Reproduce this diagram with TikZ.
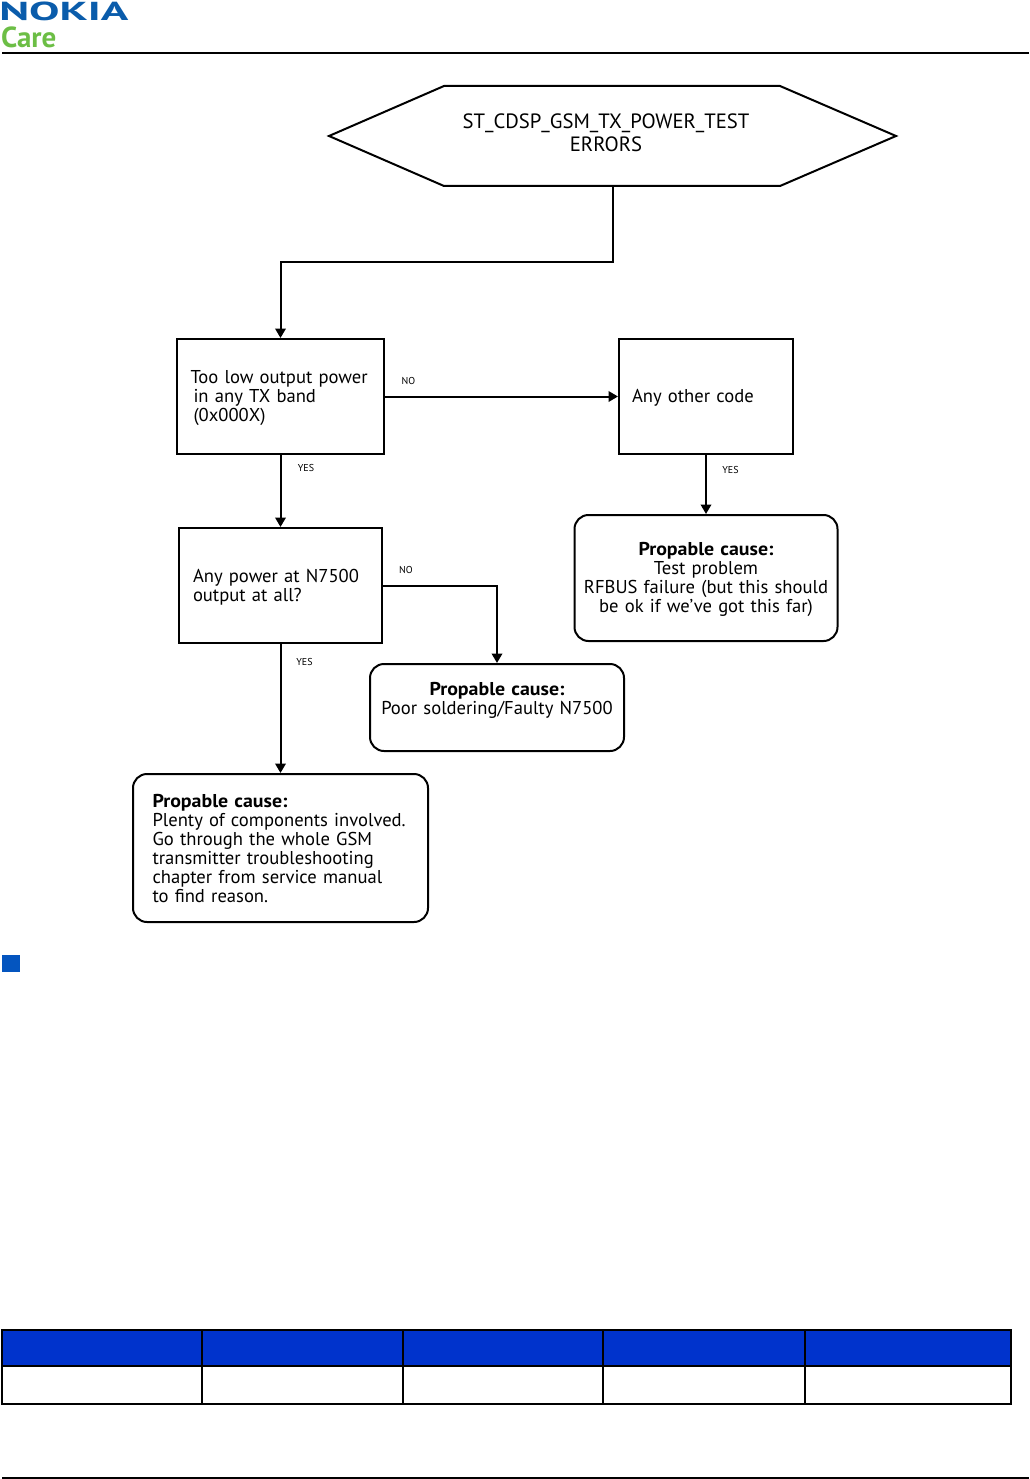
\documentclass[tikz,border=0pt]{standalone}
\usepackage{fontspec}
\setmainfont[WordSpace=0.8]{PT Sans}
\newfontface\widebold[FakeStretch=1.07,WordSpace=0.8]{PT Sans Bold}
\usetikzlibrary{arrows.meta}
\definecolor{nokiablue}{HTML}{0A5CAB}
\definecolor{carelime}{HTML}{6CBE45}
\definecolor{headblue}{HTML}{0033CC}
\definecolor{bulletblue}{HTML}{0455BF}
\newcommand{\firstline}[1]{\rule{0pt}{#1pt}}
\tikzset{
  x=1pt,y=-1pt,
  boxtext/.style={font=\fontsize{18.6}{19}\selectfont},
  sqbox/.style={draw=black,line width=2pt,boxtext,inner sep=0pt},
  rbox/.style={sqbox,rounded corners=14pt},
  conn/.style={draw=black,line width=2pt,-{Triangle[length=9.5pt,width=10.5pt]}},
  tag/.style={font=\fontsize{10}{11}\selectfont,inner sep=0pt},
  rule/.style={draw=black,line width=2pt},
  tabline/.style={draw=black,line width=2pt},
}
\begin{document}
\begin{tikzpicture}
\useasboundingbox (0,0) rectangle (1029,1479);
% header and footer
\node[anchor=west,inner sep=0pt,text=nokiablue,font=\fontsize{26}{26}\bfseries\selectfont,xscale=1.75] (logo) at (-1,11) {NOKIA};
\node[anchor=west,inner sep=0pt,text=carelime,font=\fontsize{29}{29}\bfseries\selectfont] (care) at (1,37) {Care};
\draw[rule] (2,53) -- (1029,53);
\draw[rule] (2,1478) -- (1029,1478);
% hexagon
\draw[line width=2pt,line join=miter] (329,136) -- (444,86) -- (780,86) -- (896,136) -- (780,186) -- (444,186) -- cycle;
\node[inner sep=0pt,align=center,font=\fontsize{20.7}{23}\selectfont] (hex) at (606,132.5) {ST\_CDSP\_GSM\_TX\_POWER\_TEST\\ERRORS};
\coordinate (hexb) at (613,186);
\coordinate (bend1) at (613,262);
\coordinate (bend2) at (280.5,262);
% boxes
\node[sqbox,minimum width=207pt,minimum height=115pt,text width=180pt,align=left] (low) at (280.5,396.5) {\firstline{16}\mbox{Too low output power}\\\hspace*{3pt}in any TX band\\\hspace*{3pt}(0x000X)};
\node[sqbox,minimum width=174pt,minimum height=115pt,text width=148pt,align=left] (other) at (706,396.5) {\firstline{16}Any other code};
\node[sqbox,minimum width=203pt,minimum height=115pt,text width=175pt,align=left] (any) at (280.5,585.5) {\firstline{16}Any power at N7500\\output at all?};
\node[rbox,minimum width=263pt,minimum height=126pt,text width=256pt,align=center] (test) at (706,578) {\firstline{16}{\widebold Propable cause:}\\Test problem\\RFBUS failure (but this should\\be ok if we’ve got this far)};
\node[rbox,minimum width=254pt,minimum height=87pt,text width=245pt,align=center] (n75) at (497,707.5) {\firstline{20}{\widebold Propable cause:}\\Poor soldering/Faulty N7500\\\strut};
\node[rbox,minimum width=295pt,minimum height=148pt,text width=256pt,align=left] (big) at (280.5,848) {{\widebold Propable cause:}\\\mbox{Plenty of components involved.}\\Go through the whole GSM\\transmitter troubleshooting\\chapter from service manual\\to find reason.};
% connectors
\draw[conn] (hexb) -- (bend1) -- (bend2) -- (low.north);
\draw[conn] (low.east) -- (other.west);
\draw[conn] (low.south) -- (any.north);
\draw[conn] (other.south) -- (test.north);
\draw[conn] (any.south) -- (big.north);
\draw[conn] (any.east) -- (n75.north |- any.east) -- (n75.north);
% labels
\node[tag] (l1) at (408.5,381) {NO};
\node[tag] (l2) at (306,468) {YES};
\node[tag] (l3) at (730.5,470) {YES};
\node[tag] (l4) at (406,570) {NO};
\node[tag] (l5) at (304.5,662) {YES};
% bullet
\fill[bulletblue] (2,955) rectangle (20,972);
% table
\fill[headblue] (2,1330) rectangle (1011,1366);
\draw[tabline] (2,1330) rectangle (1011,1404);
\draw[tabline] (2,1366) -- (1011,1366);
\draw[tabline] (202,1330) -- (202,1404);
\draw[tabline] (403,1330) -- (403,1404);
\draw[tabline] (603,1330) -- (603,1404);
\draw[tabline] (805,1330) -- (805,1404);
\end{tikzpicture}
\end{document}
